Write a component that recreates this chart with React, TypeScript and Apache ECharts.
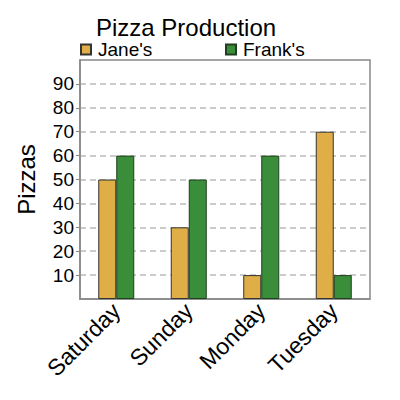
import * as echarts from "echarts";
import { useEffect, useRef } from "react";

const days = ["Saturday", "Sunday", "Monday", "Tuesday"];
const janes = [50, 30, 10, 70];
const franks = [60, 50, 60, 10];
const yTicks = [10, 20, 30, 40, 50, 60, 70, 80, 90];

const FONT = "Liberation Sans, Arial, sans-serif";

export default function App() {
  const ref = useRef<HTMLDivElement>(null);

  useEffect(() => {
    if (!ref.current) return;
    const chart = echarts.init(ref.current, null, { renderer: "svg" });

    chart.setOption({
      animation: false,
      textStyle: { fontFamily: FONT },
      title: {
        text: "Pizza Production",
        left: 91,
        top: 10,
        textStyle: { fontSize: 24, fontWeight: "normal", color: "#000", fontFamily: FONT }
      },
      legend: [
        {
          data: ["Jane's"],
          left: 75,
          top: 35,
          icon: "rect",
          itemWidth: 10,
          itemHeight: 10,
          textStyle: { fontSize: 19, color: "#000", padding: [0, 0, 0, 2] }
        },
        {
          data: ["Frank's"],
          left: 220,
          top: 35,
          icon: "rect",
          itemWidth: 10,
          itemHeight: 10,
          textStyle: { fontSize: 19, color: "#000", padding: [0, 0, 0, 2] }
        }
      ],
      grid: {
        left: 80,
        right: 30,
        top: 60,
        bottom: 101,
        show: true,
        borderColor: "#888",
        borderWidth: 1.5
      },
      xAxis: {
        type: "category",
        data: days,
        axisLine: { lineStyle: { color: "#888", width: 1.5 } },
        axisTick: { show: false },
        axisLabel: {
          rotate: 45,
          fontSize: 23,
          color: "#000",
          margin: 8,
          fontFamily: FONT
        }
      },
      yAxis: {
        type: "value",
        min: 0,
        max: 100,
        interval: 10,
        name: "Pizzas",
        nameLocation: "middle",
        nameGap: 42,
        nameTextStyle: { fontSize: 24, color: "#000", fontFamily: FONT },
        axisLine: { show: true, lineStyle: { color: "#888", width: 1.5 } },
        axisTick: { show: true, length: 4, lineStyle: { color: "#888" }, customValues: yTicks },
        axisLabel: {
          fontSize: 19,
          color: "#000",
          margin: 6,
          fontFamily: FONT,
          customValues: yTicks
        },
        splitLine: {
          show: true,
          lineStyle: { color: "#bbb", type: [6, 4], width: 1.5 }
        }
      },
      series: [
        {
          name: "Jane's",
          type: "bar",
          data: janes,
          barWidth: 18,
          barGap: "0%",
          itemStyle: { color: "#dfae47", borderColor: "#333", borderWidth: 1 }
        },
        {
          name: "Frank's",
          type: "bar",
          data: franks,
          barWidth: 18,
          itemStyle: { color: "#3a8e3a", borderColor: "#1f3f1f", borderWidth: 1 }
        }
      ]
    });

    return () => chart.dispose();
  }, []);

  return <div ref={ref} style={{ width: 400, height: 400, margin: -8 }} />;
}
